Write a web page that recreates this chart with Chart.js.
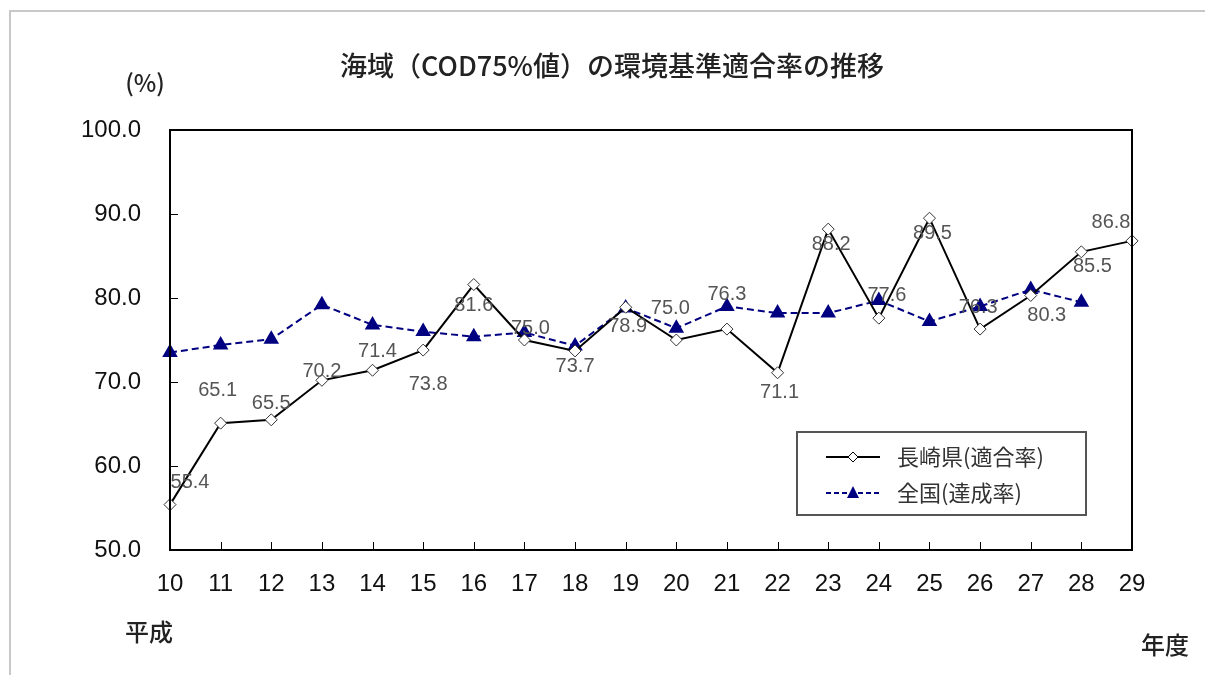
<!DOCTYPE html>
<html><head><meta charset="utf-8">
<script src="https://cdn.jsdelivr.net/npm/chart.js@4"></script>
<style>
html,body{margin:0;padding:0;background:#fff;}
#wrap{position:relative;width:1205px;height:675px;}
canvas{display:block;}
</style></head>
<body><div id="wrap"><canvas id="c" width="1205" height="675"></canvas></div>
<script>
const categories = ['10','11','12','13','14','15','16','17','18','19','20','21','22','23','24','25','26','27','28','29'];
const nagasaki = [55.4,65.1,65.5,70.2,71.4,73.8,81.6,75.0,73.7,78.9,75.0,76.3,71.1,88.2,77.6,89.5,76.3,80.3,85.5,86.8];
const zenkoku = [73.5,74.4,75.1,79.2,76.8,76.0,75.4,75.9,74.3,78.8,76.4,79.0,78.2,78.2,79.7,77.2,79.0,81.0,79.5,null];
const yTicks = [50,60,70,80,90,100];
const seriesNames = ['長崎県(適合率)','全国(達成率)'];
const titleText = '海域（COD75%値）の環境基準適合率の推移';

// label offsets (pixels) relative to each Nagasaki point
const labelDX = [20,-3,0,0,5,5,0,6,0,2,-6,0,2,3,8,3,-2,16,11,-21];
const labelDY = [-22,-33,-16,-9,-19,34,21,-12,16,19,-32,-35,20,15,-23,15,-22,20,15,-18];

const FONT_NUM = '"Liberation Sans", Arial, sans-serif';
const FONT_JP = '"Noto Sans CJK JP", "Noto Sans", sans-serif';

const decor = {
  id: 'decor',
  beforeDraw(chart) {
    const ctx = chart.ctx;
    ctx.save();
    ctx.fillStyle = '#fff';
    ctx.fillRect(0,0,chart.width,chart.height);
    // outer page lines
    ctx.strokeStyle = '#c8c8c8';
    ctx.lineWidth = 2;
    ctx.beginPath();
    ctx.moveTo(10, 675); ctx.lineTo(10, 11); ctx.lineTo(1205, 11);
    ctx.stroke();
    // title
    ctx.fillStyle = '#222';
    ctx.textAlign = 'center';
    ctx.textBaseline = 'middle';
    ctx.font = '500 27px ' + FONT_JP;
    ctx.fillText(titleText, 612, 66);
    ctx.font = '500 24px ' + FONT_JP;
    ctx.fillText('(%)', 145, 83);
    ctx.fillText('平成', 149, 632);
    ctx.fillText('年度', 1165, 645);
    ctx.restore();
  },
  afterDatasetsDraw(chart) {
    const ctx = chart.ctx;
    const ca = chart.chartArea;
    const xs = chart.scales.x, ys = chart.scales.y;
    ctx.save();
    // frame
    ctx.strokeStyle = '#000';
    ctx.lineWidth = 2;
    ctx.strokeRect(ca.left, ca.top, ca.right - ca.left, ca.bottom - ca.top);
    ctx.lineWidth = 1;
    ctx.beginPath();
    // inner tick marks
    categories.forEach((c, i) => {
      const x = Math.round(xs.getPixelForValue(i)) + 0.5;
      ctx.moveTo(x, ca.bottom); ctx.lineTo(x, ca.bottom - 8);
    });
    yTicks.forEach(v => {
      const y = Math.round(ys.getPixelForValue(v)) + 0.5;
      ctx.moveTo(ca.left, y); ctx.lineTo(ca.left + 8, y);
    });
    ctx.stroke();
    // data labels
    ctx.fillStyle = '#555';
    ctx.font = '20px ' + FONT_NUM;
    ctx.textAlign = 'center';
    ctx.textBaseline = 'middle';
    const meta = chart.getDatasetMeta(0);
    meta.data.forEach((pt, i) => {
      ctx.fillText(nagasaki[i].toFixed(1), pt.x + labelDX[i], pt.y + labelDY[i]);
    });
    // legend
    const lx = 797, ly = 432, lw = 289, lh = 83;
    ctx.fillStyle = '#fff';
    ctx.fillRect(lx, ly, lw, lh);
    ctx.strokeStyle = '#555';
    ctx.lineWidth = 2;
    ctx.strokeRect(lx, ly, lw, lh);
    const rows = [457, 493];
    // row 1
    ctx.strokeStyle = '#000'; ctx.lineWidth = 2; ctx.setLineDash([]);
    ctx.beginPath(); ctx.moveTo(826, rows[0]); ctx.lineTo(880, rows[0]); ctx.stroke();
    ctx.fillStyle = '#fff'; ctx.lineWidth = 1;
    ctx.beginPath();
    ctx.moveTo(853, rows[0]-5); ctx.lineTo(858, rows[0]); ctx.lineTo(853, rows[0]+5); ctx.lineTo(848, rows[0]);
    ctx.closePath(); ctx.fill(); ctx.stroke();
    // row 2
    ctx.strokeStyle = '#000080'; ctx.lineWidth = 2; ctx.setLineDash([5,3]);
    ctx.beginPath(); ctx.moveTo(826, rows[1]); ctx.lineTo(880, rows[1]); ctx.stroke();
    ctx.setLineDash([]);
    ctx.fillStyle = '#000080';
    ctx.beginPath();
    ctx.moveTo(853, rows[1]-7); ctx.lineTo(859, rows[1]+5); ctx.lineTo(847, rows[1]+5);
    ctx.closePath(); ctx.fill();
    ctx.fillStyle = '#333';
    ctx.textAlign = 'left';
    ctx.font = '22px ' + FONT_JP;
    ctx.fillText(seriesNames[0], 897, rows[0]);
    ctx.fillText(seriesNames[1], 897, rows[1]);
    ctx.restore();
  }
};

new Chart(document.getElementById('c'), {
  type: 'line',
  data: {
    labels: categories,
    datasets: [
      {
        label: seriesNames[0],
        data: nagasaki,
        borderColor: '#000',
        borderWidth: 2,
        pointStyle: 'rectRot',
        pointRadius: 6,
        pointBackgroundColor: '#fff',
        pointBorderColor: '#333',
        pointBorderWidth: 1,
        tension: 0,
        order: 1
      },
      {
        label: seriesNames[1],
        data: zenkoku,
        borderColor: '#000080',
        borderWidth: 2,
        borderDash: [7,4],
        pointStyle: 'triangle',
        pointRadius: 7,
        pointBackgroundColor: '#000080',
        pointBorderColor: '#000080',
        tension: 0,
        spanGaps: false,
        order: 2
      }
    ]
  },
  options: {
    responsive: false,
    animation: false,
    devicePixelRatio: 1,
    layout: { padding: { left: 10, top: 130, right: 73, bottom: 75 } },
    plugins: { legend: { display: false }, title: { display: false }, tooltip: { enabled: false } },
    scales: {
      x: {
        type: 'category',
        offset: false,
        grid: { display: false, drawTicks: false },
        border: { display: false },
        ticks: { color: '#111', padding: 20, font: { family: FONT_NUM, size: 24 }, maxRotation: 0, autoSkip: false },
        afterFit(s) { s.height = 50; }
      },
      y: {
        min: 50, max: 100,
        afterBuildTicks(s) { s.ticks = yTicks.map(v => ({ value: v })); },
        grid: { display: false, drawTicks: false },
        border: { display: false },
        ticks: { color: '#111', padding: 29, font: { family: FONT_NUM, size: 24 }, callback: v => Number(v).toFixed(1) },
        afterFit(s) { s.width = 160; }
      }
    }
  },
  plugins: [decor]
});
</script>
</body></html>
